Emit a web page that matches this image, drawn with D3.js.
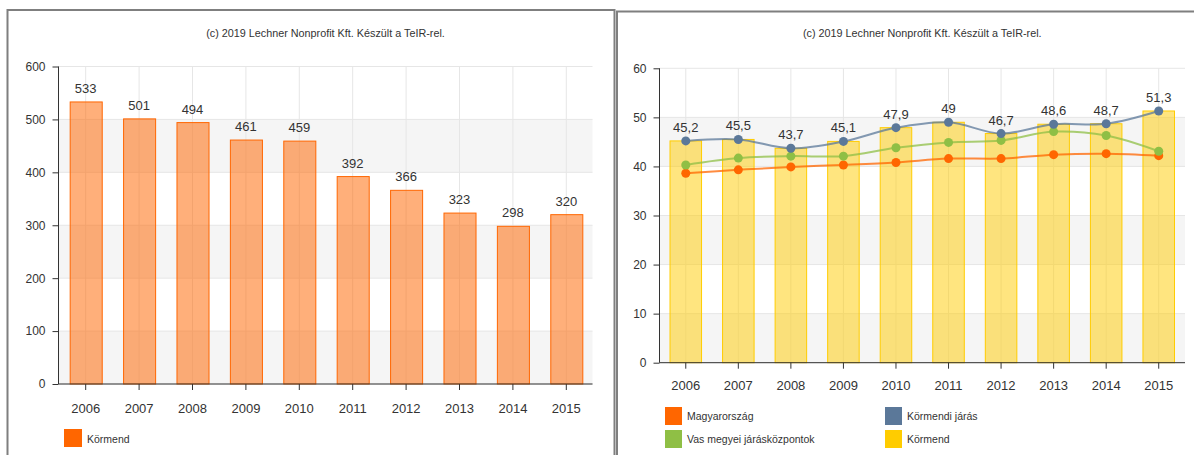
<!DOCTYPE html>
<html>
<head>
<meta charset="utf-8">
<script src="https://cdn.jsdelivr.net/npm/d3@7"></script>
<style>
  html, body { margin: 0; padding: 0; background: #ffffff; }
  svg { display: block; font-family: "Liberation Sans", Arial, sans-serif; }
</style>
</head>
<body>
<svg id="chart" width="1194" height="455"></svg>
<script>
// ---------- data ----------
const years = ["2006", "2007", "2008", "2009", "2010", "2011", "2012", "2013", "2014", "2015"];
const titleText = "(c) 2019 Lechner Nonprofit Kft. Készült a TeIR-rel.";

// left chart
const leftSeriesName = "Körmend";
const leftValues = [533, 501, 494, 461, 459, 392, 366, 323, 298, 320];
const leftTicks = [0, 100, 200, 300, 400, 500, 600];

// right chart
const magyarorszag = [38.6, 39.3, 39.9, 40.3, 40.8, 41.6, 41.6, 42.4, 42.6, 42.2];
const vasMegyei = [40.3, 41.7, 42.1, 42.1, 43.8, 44.9, 45.3, 47.1, 46.3, 43.1];
const kormendiJaras = [45.2, 45.5, 43.7, 45.1, 47.9, 49, 46.7, 48.6, 48.7, 51.3];
const kormendBars = [45.2, 45.5, 43.7, 45.1, 47.9, 49, 46.7, 48.6, 48.7, 51.3];
const rightTicks = [0, 10, 20, 30, 40, 50, 60];
const rightLegend = ["Magyarország", "Vas megyei járásközpontok", "Körmendi járás", "Körmend"];

// ---------- styles ----------
const C = {
  orange: "#ff6600", green: "#8fbf45", blue: "#5b7899", yellow: "#ffcc00",
  text: "#333333", grid: "#e6e6e6", band: "#f5f5f5", axis: "#333333", border: "#7f7f7f"
};
const fmt = v => String(v).replace(".", ",");

const svg = d3.select("#chart");

// panel borders
svg.append("rect").attr("x", 7.5).attr("y", 10).attr("width", 607).attr("height", 470)
  .attr("fill", "none").attr("stroke", C.border).attr("stroke-width", 2);
svg.append("rect").attr("x", 617).attr("y", 11.5).attr("width", 600).attr("height", 470)
  .attr("fill", "none").attr("stroke", C.border).attr("stroke-width", 2);

function frame(g, x, y, ticks, x0, x1, yTopVal, titleX) {
  const top = y(yTopVal);
  const bottom = y(0);
  for (let i = 0; i < ticks.length - 1; i += 2) {
    g.append("rect").attr("x", x0).attr("width", x1 - x0)
      .attr("y", y(ticks[i + 1])).attr("height", y(ticks[i]) - y(ticks[i + 1]))
      .attr("fill", C.band);
  }
  g.selectAll(null).data(ticks).enter().append("line")
    .attr("x1", x0).attr("x2", x1).attr("y1", d => y(d)).attr("y2", d => y(d))
    .attr("stroke", C.grid).attr("stroke-width", 1);
  g.selectAll(null).data(years).enter().append("line")
    .attr("x1", d => x(d) + x.bandwidth() / 2).attr("x2", d => x(d) + x.bandwidth() / 2)
    .attr("y1", top).attr("y2", bottom)
    .attr("stroke", C.grid).attr("stroke-width", 1);
  g.append("text").attr("x", titleX).attr("y", 37).attr("text-anchor", "middle")
    .attr("font-size", 10.8).attr("fill", C.text).text(titleText);
}

function axes(g, x, y, ticks, x0, x1, yearY) {
  const yAxis = g.append("g").attr("transform", `translate(${x0},0)`)
    .call(d3.axisLeft(y).tickValues(ticks).tickSize(6).tickPadding(7).tickFormat(d3.format("d")));
  yAxis.select(".domain").attr("stroke", C.axis).attr("d", `M0,${y(ticks[ticks.length - 1])}V${y(0)}`);
  yAxis.selectAll(".tick line").attr("stroke", C.axis);
  yAxis.selectAll("text").attr("fill", C.text).attr("font-size", 12)
    .attr("font-family", "Liberation Sans, Arial, sans-serif");

  const xAxis = g.append("g").attr("transform", `translate(0,${y(0)})`)
    .call(d3.axisBottom(x).tickSize(6).tickPadding(yearY));
  xAxis.select(".domain").attr("stroke", C.axis).attr("d", `M${x0},0H${x1}`);
  xAxis.selectAll(".tick line").attr("stroke", C.axis);
  xAxis.selectAll("text").attr("fill", C.text).attr("font-size", 13)
    .attr("font-family", "Liberation Sans, Arial, sans-serif");
}

// ---------- left chart ----------
{
  const g = svg.append("g");
  const x0 = 58.5, x1 = 592.5;
  const x = d3.scaleBand().domain(years).range([x0 + 0.5, x1 + 0.5]).paddingInner(0.4).paddingOuter(0.2);
  const y = d3.scaleLinear().domain([0, 600]).range([384, 66.5]);
  frame(g, x, y, leftTicks, x0, x1, 600, (x0 + x1) / 2);

  g.selectAll(null).data(leftValues).enter().append("rect")
    .attr("x", (d, i) => x(years[i]) + 0.5).attr("width", x.bandwidth())
    .attr("y", d => y(d)).attr("height", d => y(0) - y(d))
    .attr("fill", C.orange).attr("fill-opacity", 0.52)
    .attr("stroke", C.orange).attr("stroke-width", 1);

  g.selectAll(null).data(leftValues).enter().append("text")
    .attr("x", (d, i) => x(years[i]) + x.bandwidth() / 2)
    .attr("y", d => y(d) - 9).attr("text-anchor", "middle")
    .attr("font-size", 13).attr("fill", C.text).text(d => fmt(d));

  axes(g, x, y, leftTicks, x0, x1, 14);

  g.append("rect").attr("x", 64).attr("y", 429).attr("width", 18).attr("height", 18).attr("fill", C.orange);
  g.append("text").attr("x", 87).attr("y", 442.5).attr("font-size", 10.5).attr("fill", C.text).text(leftSeriesName);
}

// ---------- right chart ----------
{
  const g = svg.append("g");
  const x0 = 659.5, x1 = 1185;
  const x = d3.scaleBand().domain(years).range([x0, x1]).paddingInner(0.4).paddingOuter(0.2);
  const y = d3.scaleLinear().domain([0, 60]).range([362.7, 68.3]);
  frame(g, x, y, rightTicks, x0, x1, 60, (x0 + x1) / 2);
  const cx = i => x(years[i]) + x.bandwidth() / 2;

  g.selectAll(null).data(kormendBars).enter().append("rect")
    .attr("x", (d, i) => x(years[i])).attr("width", x.bandwidth())
    .attr("y", d => y(d)).attr("height", d => y(0) - y(d))
    .attr("fill", C.yellow).attr("fill-opacity", 0.5)
    .attr("stroke", C.yellow).attr("stroke-width", 1);

  const line = d3.line().x((d, i) => cx(i)).y(d => y(d)).curve(d3.curveCatmullRom.alpha(0.5));
  const series = [
    { values: magyarorszag, color: C.orange },
    { values: vasMegyei, color: C.green },
    { values: kormendiJaras, color: C.blue }
  ];
  series.forEach(s => {
    g.append("path").datum(s.values).attr("d", line)
      .attr("fill", "none").attr("stroke", s.color).attr("stroke-width", 2).attr("stroke-opacity", 0.75);
  });
  series.forEach(s => {
    g.selectAll(null).data(s.values).enter().append("circle")
      .attr("cx", (d, i) => cx(i)).attr("cy", d => y(d)).attr("r", 4.5)
      .attr("fill", s.color);
  });

  g.selectAll(null).data(kormendiJaras).enter().append("text")
    .attr("x", (d, i) => cx(i)).attr("y", d => y(d) - 9).attr("text-anchor", "middle")
    .attr("font-size", 13).attr("fill", C.text).text(d => fmt(d));

  axes(g, x, y, rightTicks, x0, x1, 12);

  const leg = [
    { name: rightLegend[0], color: C.orange, x: 665, y: 407 },
    { name: rightLegend[1], color: C.green, x: 665, y: 430 },
    { name: rightLegend[2], color: C.blue, x: 885, y: 407 },
    { name: rightLegend[3], color: C.yellow, x: 885, y: 430 }
  ];
  leg.forEach(l => {
    g.append("rect").attr("x", l.x).attr("y", l.y).attr("width", 17).attr("height", 18).attr("fill", l.color);
    g.append("text").attr("x", l.x + 22).attr("y", l.y + 13).attr("font-size", 10.5).attr("fill", C.text).text(l.name);
  });
}
</script>
</body>
</html>
